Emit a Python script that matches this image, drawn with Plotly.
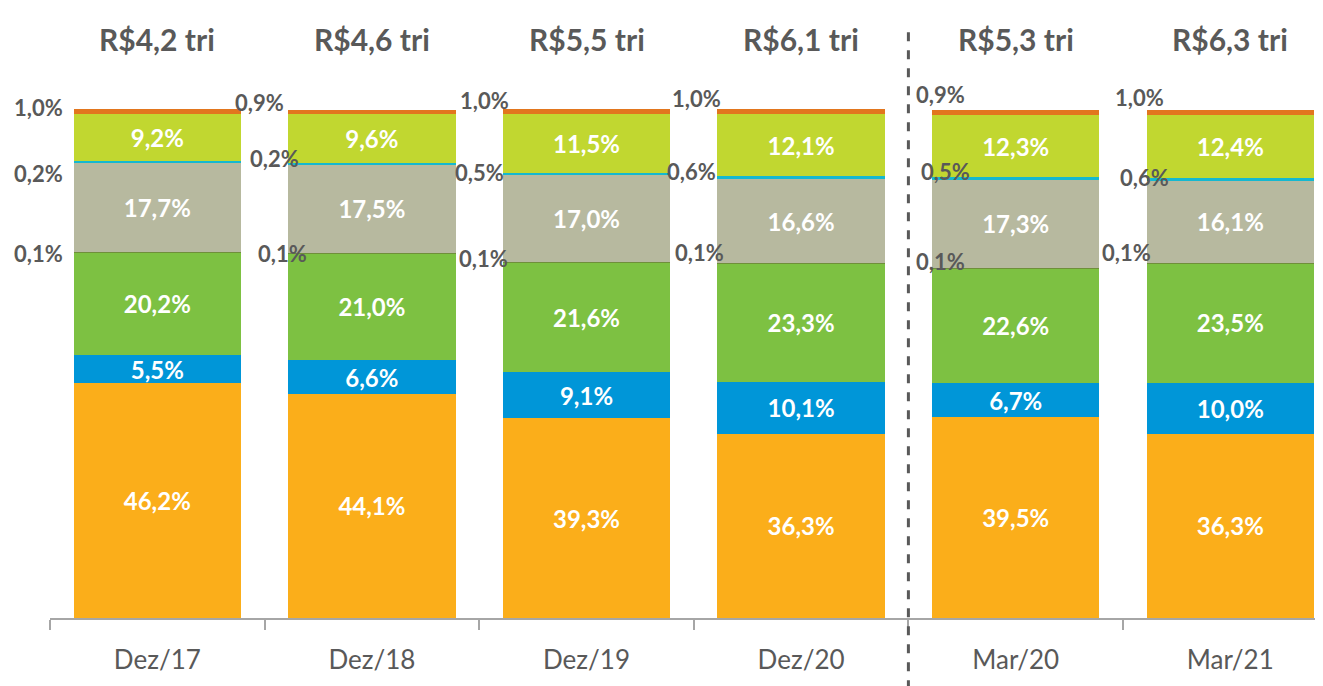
import plotly.graph_objects as go

categories = ["Dez/17", "Dez/18", "Dez/19", "Dez/20", "Mar/20", "Mar/21"]
totals = ["R$4,2 tri", "R$4,6 tri", "R$5,5 tri", "R$6,1 tri", "R$5,3 tri", "R$6,3 tri"]

s1_orange = [46.2, 44.1, 39.3, 36.3, 39.5, 36.3]
s2_blue = [5.5, 6.6, 9.1, 10.1, 6.7, 10.0]
s3_green = [20.2, 21.0, 21.6, 23.3, 22.6, 23.5]
s4_tiny = [0.1, 0.1, 0.1, 0.1, 0.1, 0.1]
s5_gray = [17.7, 17.5, 17.0, 16.6, 17.3, 16.1]
s6_cyan = [0.2, 0.2, 0.5, 0.6, 0.5, 0.6]
s7_lime = [9.2, 9.6, 11.5, 12.1, 12.3, 12.4]
s8_top = [1.0, 0.9, 1.0, 1.0, 0.9, 1.0]

series = [
    (s1_orange, "#FBAE1A", True),
    (s2_blue, "#0096D8", True),
    (s3_green, "#7DC142", True),
    (s4_tiny, "#6F8F3A", False),
    (s5_gray, "#B7B99F", True),
    (s6_cyan, "#14B8D0", False),
    (s7_lime, "#C1D730", True),
    (s8_top, "#E2761E", False),
]

def fmt(v):
    return f"{v:.1f}".replace(".", ",") + "%"

BAR_W = 0.78
fig = go.Figure()
for vals, color, inside in series:
    fig.add_trace(go.Bar(
        x=categories, y=vals, width=BAR_W,
        marker=dict(color=color, line=dict(width=0)),
        text=[fmt(v) for v in vals] if inside else None,
        textposition="inside" if inside else "none",
        insidetextanchor="middle",
        textangle=0,
        constraintext="none",
        textfont=dict(family="Lato", size=24, color="white", weight="bold"),
        hoverinfo="skip",
    ))

# outside small labels (label style offsets, in px)
top_dx = [-35, -29, -18, -21, 8, -7]
top_dy = [2, 7, 9, 11, 16, 12]
mid_dx = [-35, -14, -23, -26, 13, -2]
mid_dy = [-12, 5, 0, 4, 6, 0]
low_dx = [-35, -6, -19, -18, 8, -20]
low_dy = [-1, 0, 3, 11, 6, 10]

ann = []
lbl_font = dict(family="Lato", size=22, color="#595959", weight="bold")
for i, c in enumerate(categories):
    base = s1_orange[i] + s2_blue[i] + s3_green[i]
    ylow = base + s4_tiny[i]
    ymid = ylow + s5_gray[i] + s6_cyan[i]
    ytop = ymid + s7_lime[i] + s8_top[i]
    xl = i - BAR_W / 2
    for yv, txt, dx, dy in [
        (ytop, fmt(s8_top[i]), top_dx[i], top_dy[i]),
        (ymid, fmt(s6_cyan[i]), mid_dx[i], mid_dy[i]),
        (ylow, fmt(s4_tiny[i]), low_dx[i], low_dy[i]),
    ]:
        ann.append(dict(x=xl, y=yv, xref="x", yref="y", text=txt, showarrow=False,
                        xanchor="center", yanchor="middle", xshift=dx, yshift=dy,
                        font=lbl_font))
    ann.append(dict(x=i, y=1.137, xref="x", yref="paper", text=totals[i], showarrow=False,
                    xanchor="center", yanchor="middle",
                    font=dict(family="Lato", size=30, color="#595959", weight="bold")))

fig.update_layout(
    barmode="stack",
    showlegend=False,
    width=1315, height=678,
    margin=dict(l=42, r=0, t=101, b=68),
    plot_bgcolor="white", paper_bgcolor="white",
    annotations=ann,
    uniformtext=dict(minsize=24, mode="show"),
    shapes=[dict(type="line", xref="x", yref="paper", x0=3.5, x1=3.5, y0=-0.14, y1=1.16,
                 line=dict(color="#595959", width=3, dash="dash"))],
)
fig.update_xaxes(
    type="category", range=[-0.5, 5.432],
    showline=True, linecolor="#A6A6A6", linewidth=1.5,
    ticks="outside", tickson="boundaries", ticklen=10, tickcolor="#A6A6A6", tickwidth=1.5,
    tickfont=dict(family="Lato", size=26, color="#595959"),
    ticklabelstandoff=18,
    showgrid=False,
)
fig.update_yaxes(range=[0, 100.15], visible=False, showgrid=False)

fig.write_html("out.html")
